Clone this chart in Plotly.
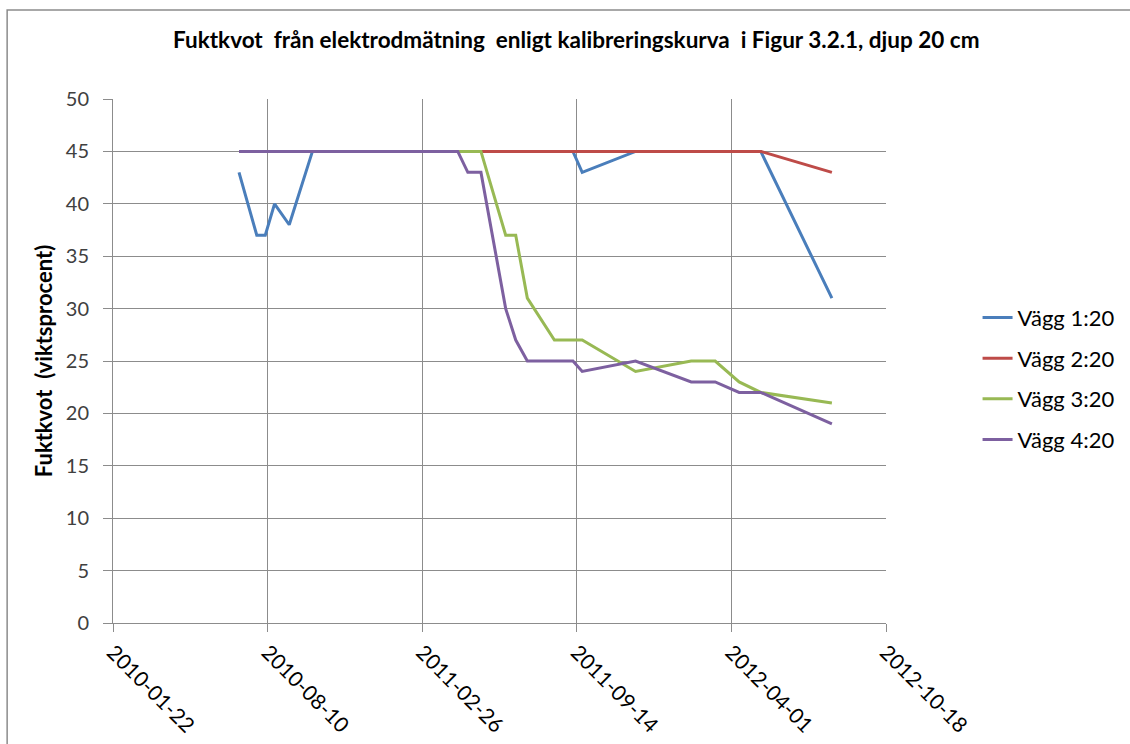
import plotly.graph_objects as go

dates = ["2010-07-04", "2010-07-27", "2010-08-07", "2010-08-19", "2010-09-07", "2010-10-07",
         "2011-04-13", "2011-04-26", "2011-05-13", "2011-06-14", "2011-06-27", "2011-07-12",
         "2011-08-16", "2011-09-09", "2011-09-21", "2011-11-29", "2012-02-09", "2012-03-11",
         "2012-04-11", "2012-05-09", "2012-08-09"]

vagg1 = [43, 37, 37, 40, 38, 45, 45, 45, 45, 45, 45, 45, 45, 45, 43, 45, 45, 45, 45, 45, 31]
vagg2 = [45, 45, 45, 45, 45, 45, 45, 45, 45, 45, 45, 45, 45, 45, 45, 45, 45, 45, 45, 45, 43]
vagg3 = [45, 45, 45, 45, 45, 45, 45, 45, 45, 37, 37, 31, 27, 27, 27, 24, 25, 25, 23, 22, 21]
vagg4 = [45, 45, 45, 45, 45, 45, 45, 43, 43, 30, 27, 25, 25, 25, 24, 25, 23, 23, 22, 22, 19]

series_names = ["Vägg 1:20", "Vägg 2:20", "Vägg 3:20", "Vägg 4:20"]
series_values = [vagg1, vagg2, vagg3, vagg4]
colors = ["#4A7EBB", "#BE4B48", "#98B954", "#7D60A0"]

tick_vals = ["2010-01-22", "2010-08-10", "2011-02-26", "2011-09-14", "2012-04-01", "2012-10-18"]

FONT = "Lato, Open Sans, sans-serif"

fig = go.Figure()
for i, (name, vals, col) in enumerate(zip(series_names, series_values, colors)):
    fig.add_trace(go.Scatter(x=dates, y=vals, mode="lines", name=name,
                             line=dict(color=col, width=3), legendgroup=f"g{i}"))

fig.update_layout(
    width=1130, height=744,
    margin=dict(l=113, r=243, t=99, b=121),
    paper_bgcolor="white", plot_bgcolor="white",
    title=dict(text="<b>Fuktkvot  från elektrodmätning  enligt kalibreringskurva  i Figur 3.2.1, djup 20 cm</b>",
               x=0.51, xanchor="center", y=0.946, yanchor="middle",
               font=dict(family=FONT, size=22.5, color="black")),
    legend=dict(x=1.117, y=0.466, xanchor="left", yanchor="middle",
                font=dict(family=FONT, size=22, color="black"),
                tracegroupgap=9, itemwidth=30, bgcolor="rgba(0,0,0,0)"),
    font=dict(family=FONT),
)

fig.update_xaxes(
    type="date", range=["2010-01-22", "2012-10-18"],
    tickmode="array", tickvals=tick_vals, ticktext=tick_vals,
    tickangle=45, tickfont=dict(family=FONT, size=21, color="black"),
    showgrid=True, gridcolor="#8C8C8C", gridwidth=1,
    showline=True, linecolor="#8C8C8C", linewidth=1,
    ticks="outside", ticklen=8, tickcolor="#8C8C8C",
    zeroline=False, mirror=False, automargin=False,
)
fig.update_yaxes(
    range=[0, 50], tickmode="linear", tick0=0, dtick=5,
    tickfont=dict(family=FONT, size=20, color="#404040"),
    showgrid=True, gridcolor="#8C8C8C", gridwidth=1,
    showline=True, linecolor="#8C8C8C", linewidth=1,
    ticks="outside", ticklen=9, tickcolor="#8C8C8C",
    ticklabelstandoff=10,
    zeroline=False, automargin=False,
    title=dict(text="<b>Fuktkvot  (viktsprocent)</b>", font=dict(family=FONT, size=22, color="black"),
               standoff=7),
)

# outer chart border
fig.add_shape(type="rect", xref="paper", yref="paper",
              x0=(7 - 113) / 774, x1=(1140 - 113) / 774,
              y0=(623 - 760) / 524, y1=(623 - 10) / 524,
              line=dict(color="#8C8C8C", width=1.5), fillcolor="rgba(0,0,0,0)", layer="below")

fig.write_html("out.html", post_script="document.body.style.margin='0';",
               config={"displayModeBar": False})
